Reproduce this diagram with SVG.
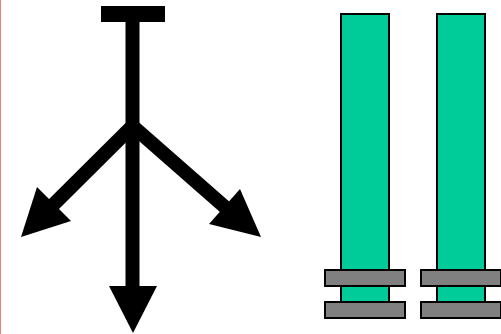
<svg xmlns="http://www.w3.org/2000/svg" width="501" height="334" viewBox="0 0 501 334">
<style>
.bar{fill:#00cc99;stroke:#000;stroke-width:2}
.foot{fill:#808080;stroke:#000;stroke-width:2}
.shaft{stroke:#000;stroke-width:14;fill:none}
.head{fill:#000}
</style>
<rect x="0" y="0" width="501" height="334" fill="#fff"/>
<line x1="0.5" y1="0" x2="0.5" y2="334" stroke="#f08080" stroke-width="1"/>
<g id="source">
<rect x="101" y="6" width="64" height="16" fill="#000"/>
</g>
<g id="connectors">
<line class="shaft" x1="132.5" y1="20" x2="132.5" y2="290"/>
<polygon class="head" points="109,286 157,286 133,333"/>
<line class="shaft" x1="132.5" y1="126" x2="52" y2="206"/>
<polygon class="head" points="37,187 71,221 21,237"/>
<line class="shaft" x1="132.5" y1="126" x2="226" y2="208"/>
<polygon class="head" points="240,189 209,224 261,237"/>
</g>
<g id="pillar1">
<rect class="bar" x="341" y="14" width="48" height="288"/>
<rect class="foot" x="325" y="270" width="80" height="16"/>
<rect class="foot" x="325" y="302" width="80" height="16"/>
</g>
<g id="pillar2">
<rect class="bar" x="437" y="14" width="48" height="288"/>
<rect class="foot" x="421" y="270" width="80" height="16"/>
<rect class="foot" x="421" y="302" width="80" height="16"/>
</g>
</svg>
